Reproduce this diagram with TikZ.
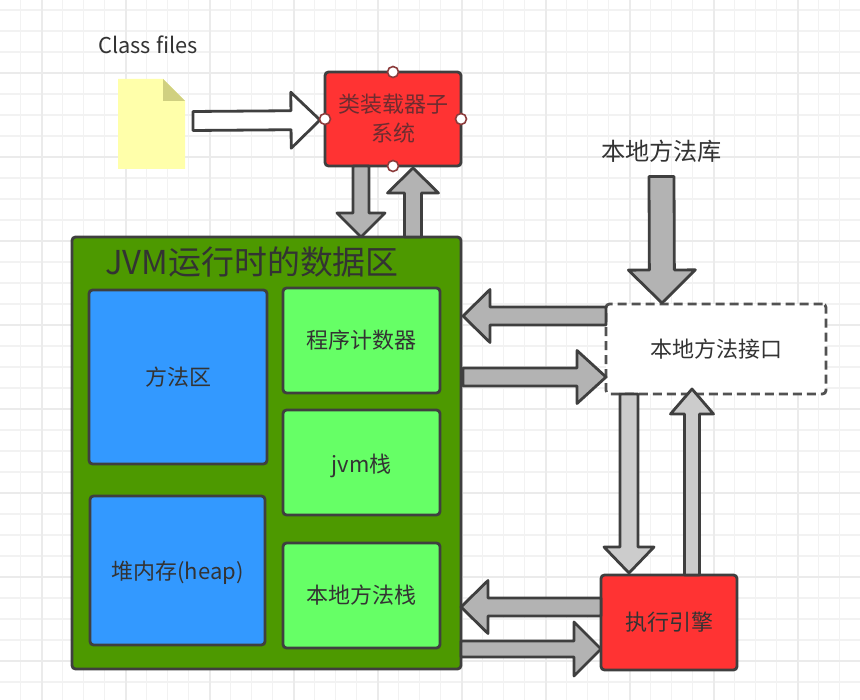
\documentclass[tikz,border=0pt]{standalone}
\usepackage{fontspec}
\setmainfont{Noto Sans CJK SC}
\usetikzlibrary{calc}
\definecolor{inkc}{HTML}{333333}
\definecolor{edgec}{HTML}{3F3F3F}
\definecolor{redc}{HTML}{FF3333}
\definecolor{greenc}{HTML}{66FF66}
\definecolor{bluec}{HTML}{3399FF}
\definecolor{jvmc}{HTML}{4D9900}
\definecolor{grayA}{HTML}{B3B3B3}
\definecolor{grayB}{HTML}{CCCCCC}
\definecolor{handlec}{HTML}{8B3A3A}
\definecolor{gridminor}{HTML}{F2F2F2}
\definecolor{gridmajor}{HTML}{EBEBEB}
\tikzset{
  basebox/.style={draw=edgec,line width=2.8pt,rounded corners=3.5pt,text=inkc,font=\fontsize{22}{29}\selectfont,align=center,inner sep=0pt,outer sep=0pt},
  redbox/.style={basebox,fill=redc},
  greenbox/.style={basebox,fill=greenc,minimum width=157pt,minimum height=105pt},
  bluebox/.style={basebox,fill=bluec},
  fat/.style={draw=edgec,line width=2.8pt,fill=grayA,line join=round},
  fatlight/.style={fat,fill=grayB},
  fatwhite/.style={fat,fill=white},
  handle/.style={circle,draw=handlec,line width=1.6pt,fill=white,minimum size=11pt,inner sep=0pt},
  label/.style={text=inkc,inner sep=0pt},
  minorgrid/.style={draw=gridminor,line width=1.4pt},
  majorgrid/.style={draw=gridmajor,line width=2pt}
}
% from, to, half shaft width, half head width, head length
\newcommand\fatarrow[6][fat]{%
  \coordinate (hb) at ($(#3)!#6pt!(#2)$);
  \draw[#1] ($(#2)!#4pt!90:(#3)$) -- ($(hb)!#4pt!90:(#3)$) -- ($(hb)!#5pt!90:(#3)$) -- (#3)
    -- ($(hb)!#5pt!-90:(#3)$) -- ($(hb)!#4pt!-90:(#3)$) -- ($(#2)!#4pt!-90:(#3)$) -- cycle;
}
\begin{document}
\begin{tikzpicture}[x=1pt,y=-1pt]
\useasboundingbox (0,0) rectangle (860,700);
\fill[white] (0,0) rectangle (860,700);
\foreach \k in {0,...,41} {\draw[minorgrid] ({20.7+21*\k},0) -- ({20.7+21*\k},700);}
\foreach \k in {0,...,33} {\draw[minorgrid] (0,{10+21*\k}) -- (860,{10+21*\k});}
\foreach \k in {0,...,9} {\draw[majorgrid] ({41.7+84*\k},0) -- ({41.7+84*\k},700);}
\foreach \k in {0,...,7} {\draw[majorgrid] (0,{73+84*\k}) -- (860,{73+84*\k});}

% file icon
\node[minimum width=67pt,minimum height=90pt,inner sep=0pt,outer sep=0pt] (file) at (151.5,124) {};
\fill[fill={rgb,255:red,255;green,255;blue,170}] (file.north west) -- ($(file.north east)+(-22,0)$) -- ($(file.north east)+(0,22)$) -- (file.south east) -- (file.south west) -- cycle;
\fill[fill={rgb,255:red,208;green,208;blue,128}] ($(file.north east)+(-22,0)$) -- ($(file.north east)+(0,22)$) -- ($(file.north east)+(-22,22)$) -- cycle;

% boxes
\node[basebox,fill=jvmc,minimum width=389pt,minimum height=432pt] (jvm) at (266.5,453) {};
\node[bluebox,minimum width=178pt,minimum height=174pt] (method) at (178,377) {方法区};
\node[bluebox,minimum width=175pt,minimum height=149pt] (heap) at (177.5,570.5) {\raisebox{-2pt}[\height][\depth]{堆内存(heap)}};
\node[greenbox] (pc) at (361.5,340.5) {程序计数器};
\node[greenbox] (stack) at (361.5,462.5) {\raisebox{-3pt}[\height][\depth]{jvm栈}};
\node[greenbox] (native) at (361.5,595.5) {本地方法栈};
\node[redbox,minimum width=136pt,minimum height=94pt,text={rgb,255:red,110;green,44;blue,48}] (loader) at (393,119) {类装载器子\\系统};
\node[redbox,minimum width=136pt,minimum height=95pt] (engine) at (669,622.5) {执行引擎};
\node[basebox,fill=white,dash pattern=on 9pt off 5pt,draw=edgec!90,minimum width=220pt,minimum height=90pt] (iface) at (716,349) {本地方法接口};

% labels
\node[label,font=\fontsize{21.8}{26}\selectfont] (classlab) at (148,45) {Class files};
\node[label,font=\fontsize{32.9}{38}\selectfont] (jvmlab) at (252,262) {JVM运行时的数据区};
\node[label,font=\fontsize{24.2}{28}\selectfont] (liblab) at (661.5,151) {本地方法库};

% connector ends
\coordinate (fileout) at ($(file.east)+(8,-3)$);
\coordinate (loadin) at ($(loader.west)+(-5,1)$);
\coordinate (ldown1) at ($(loader.south)+(-32,0)$);
\coordinate (ldown2) at (ldown1 |- jvm.north);
\coordinate (lup1) at ($(jvm.north)+(146.5,0)$);
\coordinate (lup2) at ($(lup1 |- loader.south)+(0,2)$);
\coordinate (libout) at ($(liblab.south)+(0,14)$);
\coordinate (libin) at ($(iface.north west)+(56,-1)$);
\coordinate (ifaceL) at ($(iface.west)+(0,-33)$);
\coordinate (pcIn) at ($(jvm.east |- ifaceL)+(2,0)$);
\coordinate (pcOut) at ($(jvm.east |- iface.west)+(2,28)$);
\coordinate (ifaceIn) at ($(iface.west)+(0,28)$);
\coordinate (ifaceD) at ($(iface.south west)+(23,0)$);
\coordinate (engIn) at ($(engine.north west)+(28,-2)$);
\coordinate (engOut) at ($(engine.north west)+(91,0)$);
\coordinate (ifaceU) at ($(iface.south west)+(86,-5)$);
\coordinate (engL) at ($(engine.west)+(0,-15.5)$);
\coordinate (jvmR1) at (jvm.east |- engL);
\coordinate (jvmR2) at ($(jvm.south east)+(0,-20)$);
\coordinate (engR) at (engine.west |- jvmR2);

% connectors
\fatarrow[fatwhite]{fileout}{loadin}{9.5}{28}{29}
\fatarrow{ldown1}{ldown2}{8}{24}{24}
\fatarrow{lup1}{lup2}{8.5}{25.5}{25}
\fatarrow{libout}{libin}{12.5}{33.5}{33}
\fatarrow{ifaceL}{pcIn}{9}{26.5}{27}
\fatarrow{pcOut}{ifaceIn}{9}{26.5}{29}
\fatarrow[fatlight]{ifaceD}{engIn}{9}{25}{26}
\fatarrow[fatlight]{engOut}{ifaceU}{7.5}{21.5}{25}
\fatarrow{engL}{jvmR1}{9}{26.5}{27}
\fatarrow{jvmR2}{engR}{8}{27}{27}

% handles
\foreach \a/\n in {north/ht,south/hb2,east/hr,west/hl} {\node[handle] (\n) at (loader.\a) {};}
\end{tikzpicture}
\end{document}
